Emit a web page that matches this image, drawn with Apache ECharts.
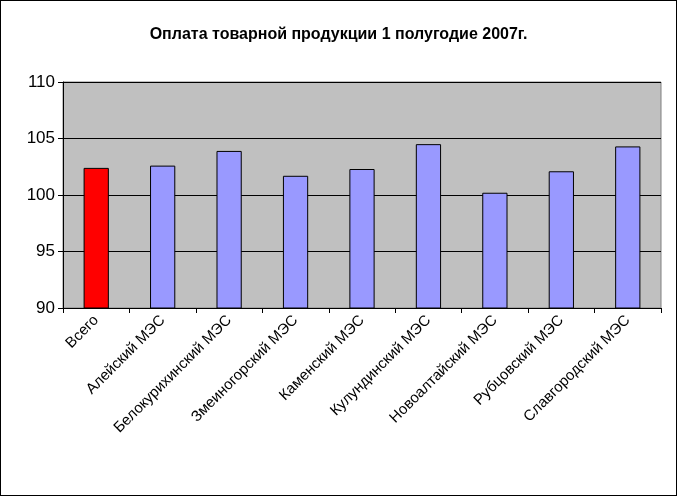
<!DOCTYPE html>
<html><head><meta charset="utf-8">
<script src="https://cdn.jsdelivr.net/npm/echarts@6/dist/echarts.min.js"></script>
<style>html,body{margin:0;padding:0;background:#fff}#c{width:675px;height:494px;border:1px solid #000}</style>
</head><body><div id="c"></div>
<script>
const categories=["Всего","Алейский МЭС","Белокурихинский МЭС","Змеиногорский МЭС","Каменский МЭС","Кулундинский МЭС","Новоалтайский МЭС","Рубцовский МЭС","Славгородский МЭС"];
const values=[102.4,102.6,103.9,101.7,102.3,104.5,100.2,102.1,104.3];
const colors=["#FF0000","#9999FF","#9999FF","#9999FF","#9999FF","#9999FF","#9999FF","#9999FF","#9999FF"];
const chart=echarts.init(document.getElementById('c'));
chart.setOption({
 animation:false,
 title:{text:"Оплата товарной продукции 1 полугодие 2007г.",left:'center',top:21,textStyle:{fontFamily:'Liberation Sans',fontSize:16,fontWeight:'bold',color:'#000'}},
 grid:{left:62,right:15,top:81,bottom:187,backgroundColor:'#C0C0C0',show:true,borderColor:'#808080',borderWidth:1},
 xAxis:{type:'category',data:categories,axisLine:{lineStyle:{color:'#000'}},axisTick:{show:true,lineStyle:{color:'#000'}},
  axisLabel:{rotate:45,interval:0,fontFamily:'Liberation Sans',fontSize:15,color:'#000',margin:10}},
 yAxis:{type:'value',min:90,max:110,interval:5,axisLine:{show:true,lineStyle:{color:'#000'}},axisTick:{show:true,lineStyle:{color:'#000'}},
  splitLine:{lineStyle:{color:'#000'}},axisLabel:{fontFamily:'Liberation Sans',fontSize:17,color:'#000'}},
 series:[{type:'bar',data:values.map((v,i)=>({value:v,itemStyle:{color:colors[i]}})),barWidth:'38%',itemStyle:{borderColor:'#000',borderWidth:1}}]
});
</script></body></html>
